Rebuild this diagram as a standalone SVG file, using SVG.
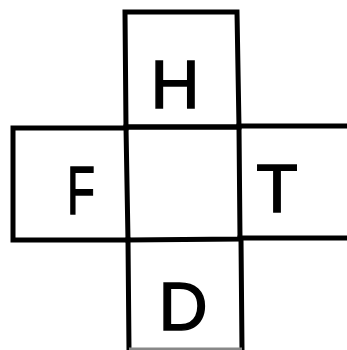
<svg xmlns="http://www.w3.org/2000/svg" width="347" height="350" viewBox="0 0 347 350">
<style>
.l{fill:none;stroke:#000;stroke-width:5;stroke-linecap:square;stroke-linejoin:miter}
.f{fill:none;stroke:#888;stroke-width:3}
.t{font-family:"Liberation Sans","DejaVu Sans",sans-serif;font-size:68px;fill:#000;stroke:#000;stroke-width:1.5;text-anchor:middle}
</style>
<rect width="347" height="350" fill="#fff"/>
<g id="H">
<path class="l" d="M125,12 L237,12 L239,127 L126,127 Z"/>
<text class="t" x="175" y="108">H</text>
</g>
<g id="F">
<path class="l" d="M126,128 L13,128 L13,240 L127,240"/>
<text class="t" x="81" y="214" textLength="28" lengthAdjust="spacingAndGlyphs">F</text>
</g>
<g id="center">
<path class="l" d="M126,127 L239,127 L240,239 L128,240 Z"/>
</g>
<g id="T">
<path class="l" d="M239,126 L347,126 M240,238 L347,238"/>
<text class="t" x="277" y="212">T</text>
</g>
<g id="D">
<path class="l" d="M128,240 L129,350 M242,350 L241,239"/>
<path class="f" d="M129,349 L242,349"/>
<text class="t" x="183" y="330">D</text>
</g>
<g id="connectors"></g>
</svg>
